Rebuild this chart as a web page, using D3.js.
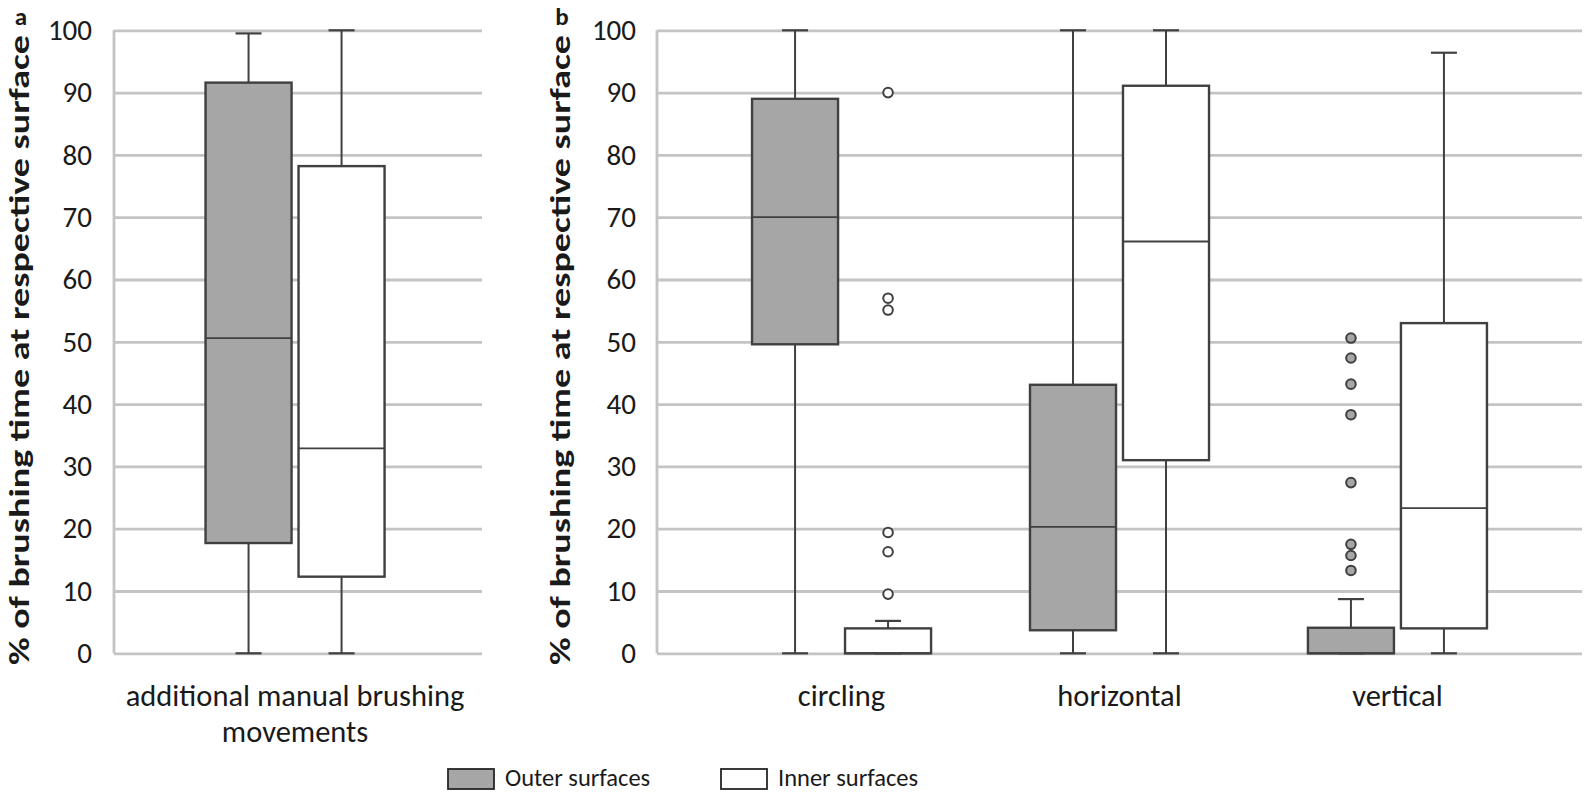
<!DOCTYPE html>
<html>
<head>
<meta charset="utf-8">
<script src="https://cdn.jsdelivr.net/npm/d3@7"></script>
<style>
  html, body { margin: 0; padding: 0; background: #fff; }
  svg { display: block; }
  text { font-family: Carlito, Calibri, Lato, "Open Sans", sans-serif; fill: #1a1a1a; }
</style>
</head>
<body>
<svg id="chart" width="1590" height="792"></svg>
<script>
// ---------------- DATA ----------------
const series = ["Outer surfaces", "Inner surfaces"];
const seriesFill = ["#a6a6a6", "#ffffff"];

const categoriesA = ["additional manual brushing movements"];
const categoriesALines = [["additional manual brushing", "movements"]];
const outerA_min = [0],   outerA_q1 = [17.7], outerA_med = [50.6], outerA_q3 = [91.6], outerA_max = [99.5];
const innerA_min = [0],   innerA_q1 = [12.3], innerA_med = [32.9], innerA_q3 = [78.2], innerA_max = [100];

const categoriesB = ["circling", "horizontal", "vertical"];
const outerB_min = [0, 0, 0];
const outerB_q1  = [49.6, 3.7, 0];
const outerB_med = [70.0, 20.3, 0];
const outerB_q3  = [89.0, 43.1, 4.1];
const outerB_max = [100, 100, 8.7];
const innerB_min = [0, 0, 0];
const innerB_q1  = [0, 31.0, 4.0];
const innerB_med = [0, 66.1, 23.3];
const innerB_q3  = [4.0, 91.1, 53.0];
const innerB_max = [5.2, 100, 96.4];

// outliers: category, series, value
const outliersB_cat = ["circling","circling","circling","circling","circling","circling",
                       "vertical","vertical","vertical","vertical","vertical","vertical","vertical","vertical"];
const outliersB_ser = ["Inner surfaces","Inner surfaces","Inner surfaces","Inner surfaces","Inner surfaces","Inner surfaces",
                       "Outer surfaces","Outer surfaces","Outer surfaces","Outer surfaces","Outer surfaces","Outer surfaces","Outer surfaces","Outer surfaces"];
const outliersB_val = [90.0, 57.0, 55.1, 19.4, 16.3, 9.5,
                       50.6, 47.4, 43.2, 38.3, 27.4, 17.5, 15.7, 13.3];

const yTicks = [0, 10, 20, 30, 40, 50, 60, 70, 80, 90, 100];
const yTitle = "% of brushing time at respective surface";
const panelLabels = ["a", "b"];

// ---------------- BUILD ----------------
function buildBoxes(cats, s0, s1) {
  const out = [];
  cats.forEach((c, i) => {
    out.push({cat: c, ser: series[0], min: s0[0][i], q1: s0[1][i], med: s0[2][i], q3: s0[3][i], max: s0[4][i]});
    out.push({cat: c, ser: series[1], min: s1[0][i], q1: s1[1][i], med: s1[2][i], q3: s1[3][i], max: s1[4][i]});
  });
  return out;
}
const boxesA = buildBoxes(categoriesA,
  [outerA_min, outerA_q1, outerA_med, outerA_q3, outerA_max],
  [innerA_min, innerA_q1, innerA_med, innerA_q3, innerA_max]);
const boxesB = buildBoxes(categoriesB,
  [outerB_min, outerB_q1, outerB_med, outerB_q3, outerB_max],
  [innerB_min, innerB_q1, innerB_med, innerB_q3, innerB_max]);
const outliersB = outliersB_val.map((v, i) => ({cat: outliersB_cat[i], ser: outliersB_ser[i], v}));

const svg = d3.select("#chart");
const y = d3.scaleLinear().domain([0, 100]).range([653.3, 30.3]);
const color = d3.scaleOrdinal().domain(series).range(seriesFill);
const xSub = d3.scaleBand().domain(series).range([-93, 93]).paddingInner(0.075).paddingOuter(0.0375);

const GRID = "#c4c4c4", INK = "#404040";

function panel(opts) {
  const g = svg.append("g");
  const x = d3.scaleBand().domain(opts.cats).range([opts.x0, opts.x1])
    .paddingInner(0).paddingOuter(opts.padOuter).align(opts.align);

  // gridlines (via axis)
  const grid = d3.axisRight(y).tickValues(yTicks).tickSize(opts.x1 - opts.x0).tickFormat("");
  g.append("g").attr("transform", `translate(${opts.x0},0)`).call(grid)
    .call(s => s.select(".domain").remove())
    .call(s => s.selectAll("line").attr("stroke", GRID).attr("stroke-width", 2.8));
  // vertical axis line
  g.append("line").attr("x1", opts.x0).attr("x2", opts.x0).attr("y1", y(100)).attr("y2", y(0))
    .attr("stroke", GRID).attr("stroke-width", 2.8);

  // tick labels
  const ax = d3.axisLeft(y).tickValues(yTicks).tickSize(0).tickPadding(opts.tickPad);
  g.append("g").attr("transform", `translate(${opts.x0},0)`).call(ax)
    .call(s => s.select(".domain").remove())
    .call(s => s.selectAll("text").attr("font-size", 29).attr("fill", "#1a1a1a")
      .style("font-family", "Carlito, Calibri, Lato, sans-serif"));

  // y title
  g.append("text")
    .attr("transform", `translate(${opts.titleX},${opts.titleY}) rotate(-90)`)
    .attr("text-anchor", "middle").attr("dominant-baseline", "central")
    .attr("font-weight", "bold").attr("font-size", 29)
    .attr("textLength", 630).attr("lengthAdjust", "spacingAndGlyphs")
    .text(yTitle);
  // panel label
  g.append("text").attr("x", opts.titleX + 2).attr("y", 25).attr("text-anchor", "middle")
    .attr("font-weight", "bold").attr("font-size", 25).text(opts.label);

  const cx = d => x(d.cat) + x.bandwidth() / 2 + xSub(d.ser) + xSub.bandwidth() / 2;
  const bw = xSub.bandwidth();
  const capW = 26;

  const bg = g.selectAll(".box").data(opts.boxes).join("g").attr("class", "box");
  // whiskers
  bg.append("line").attr("x1", cx).attr("x2", cx).attr("y1", d => y(d.max)).attr("y2", d => y(d.q3))
    .attr("stroke", INK).attr("stroke-width", 2);
  bg.append("line").attr("x1", cx).attr("x2", cx).attr("y1", d => y(d.q1)).attr("y2", d => y(d.min))
    .attr("stroke", INK).attr("stroke-width", 2);
  bg.append("line").attr("x1", d => cx(d) - capW / 2).attr("x2", d => cx(d) + capW / 2)
    .attr("y1", d => y(d.max)).attr("y2", d => y(d.max)).attr("stroke", INK).attr("stroke-width", 2.2);
  bg.append("line").attr("x1", d => cx(d) - capW / 2).attr("x2", d => cx(d) + capW / 2)
    .attr("y1", d => y(d.min)).attr("y2", d => y(d.min)).attr("stroke", INK).attr("stroke-width", 2.2);
  // box
  bg.append("rect").attr("x", d => cx(d) - bw / 2).attr("width", bw)
    .attr("y", d => y(d.q3)).attr("height", d => y(d.q1) - y(d.q3))
    .attr("fill", d => color(d.ser)).attr("stroke", INK).attr("stroke-width", 2.4);
  // median
  bg.append("line").attr("x1", d => cx(d) - bw / 2).attr("x2", d => cx(d) + bw / 2)
    .attr("y1", d => y(d.med)).attr("y2", d => y(d.med)).attr("stroke", INK).attr("stroke-width", 1.8);

  // outliers
  g.selectAll(".out").data(opts.outliers).join("circle").attr("class", "out")
    .attr("cx", cx).attr("cy", d => y(d.v)).attr("r", 4.8)
    .attr("fill", d => color(d.ser)).attr("stroke", INK).attr("stroke-width", 2);

  // category labels
  opts.cats.forEach((c, i) => {
    const lines = opts.catLines ? opts.catLines[i] : [c];
    const cxc = x(c) + x.bandwidth() / 2;
    const t = g.append("text").attr("text-anchor", "middle").attr("font-size", 30.5)
      .attr("x", cxc).attr("y", 706);
    lines.forEach((ln, j) => t.append("tspan").attr("x", cxc)
      .attr("dy", j === 0 ? 0 : 36).text(ln));
  });
}

panel({cats: categoriesA, catLines: categoriesALines, boxes: boxesA, outliers: [],
  x0: 114, x1: 482, padOuter: 0.5, align: 0.484, tickPad: 22, titleX: 19, titleY: 350, label: panelLabels[0]});
panel({cats: categoriesB, boxes: boxesB, outliers: outliersB,
  x0: 657, x1: 1582, padOuter: 0.164, align: 0.5, tickPad: 21, titleX: 560, titleY: 350, label: panelLabels[1]});

// legend
const legend = svg.append("g");
const legX = d3.scaleOrdinal().domain(series).range([448, 721]);
series.forEach(s => {
  legend.append("rect").attr("x", legX(s)).attr("y", 769).attr("width", 46).attr("height", 20)
    .attr("fill", color(s)).attr("stroke", "#262626").attr("stroke-width", 1.8);
  legend.append("text").attr("x", legX(s) + 57).attr("y", 786).attr("font-size", 24.5).text(s);
});
</script>
</body>
</html>
